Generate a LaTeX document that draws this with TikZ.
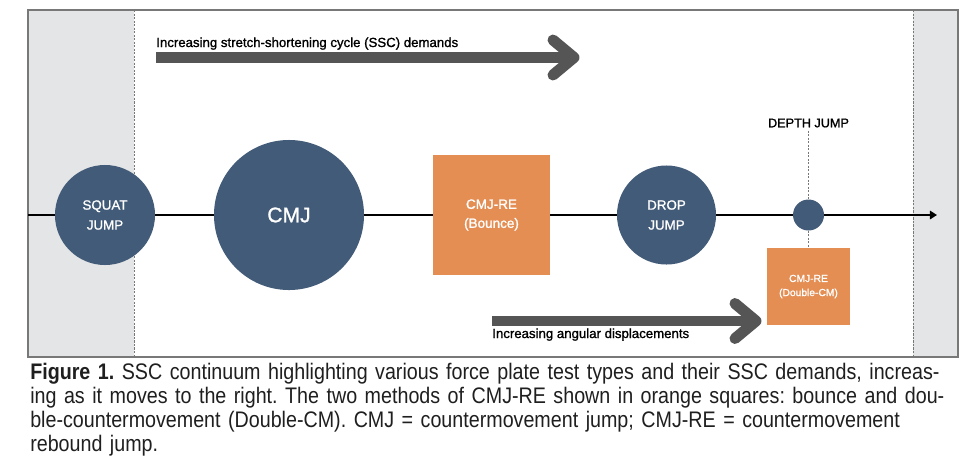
\documentclass[tikz,border=0pt]{standalone}
\usepackage{fontspec}
\setmainfont{Liberation Sans}[FakeBold=1.2]
\newfontfamily\captionfont[FakeStretch=0.875]{Liberation Sans}
\usetikzlibrary{arrows.meta,positioning,calc}
\definecolor{testnavy}{RGB}{66,91,120}
\definecolor{testorange}{RGB}{228,142,84}
\definecolor{panelgray}{RGB}{228,229,231}
\definecolor{arrowgray}{RGB}{85,85,85}
\definecolor{framegray}{RGB}{120,120,120}

\begin{document}
\begin{tikzpicture}[x=0.025cm,y=-0.025cm,
    jumpcircle/.style={circle,fill=testnavy,text=white,inner sep=0pt,align=center},
    jumpsquare/.style={rectangle,fill=testorange,text=white,inner sep=0pt,align=center},
    thinguide/.style={framegray,line width=0.6pt,dash pattern=on 1.5pt off 1pt},
    bigarrow/.style={arrowgray,line width=7.8pt,line cap=round,line join=round},
    arrowtext/.style={anchor=base west,inner sep=0pt,font=\fontsize{9.4}{11}\selectfont}]
      \useasboundingbox (0,0) rectangle (975,456);
      \fill[white] (0,0) rectangle (975,456);
      \fill[panelgray] (28,10) rectangle (134,357);
      \fill[panelgray] (913,10) rectangle (958,357);
      \draw[thinguide] (134,10) -- (134,357);
      \draw[thinguide] (913,10) -- (913,357);
      \draw[framegray,line width=0.8pt] (28,10) rectangle (958,357);

      \node[arrowtext] (ssclabel) at (156,47) {Increasing stretch-shortening cycle (SSC) demands};
      \coordinate (sscstart) at (156,57.5);
      \coordinate (ssctip) at (574,57.5);
      \draw[bigarrow,line cap=butt] (sscstart) -- ($(ssctip)+(-4,0)$);
      \draw[bigarrow] ($(ssctip)+(-21,-17.5)$) -- (ssctip) -- ($(ssctip)+(-21,17.5)$);

      \node[jumpcircle,minimum size=2.5cm,font=\fontsize{9.5}{14.2}\selectfont] (squat) at (105,215) {SQUAT\\JUMP};
      \node[jumpcircle,minimum size=3.75cm,font=\fontsize{15}{18}\selectfont] (cmj) at (289,215) {CMJ};
      \node[jumpsquare,minimum width=2.925cm,minimum height=2.975cm,font=\fontsize{9.6}{13.5}\selectfont] (bounce) at (491.5,215) {CMJ-RE\\(Bounce)};
      \node[jumpcircle,minimum size=2.475cm,font=\fontsize{9.5}{14.2}\selectfont] (drop) at (666.5,215) {DROP\\JUMP};
      \node[jumpcircle,minimum size=0.775cm] (depth) at (808.5,215) {};
      \node[inner sep=2pt,font=\fontsize{9}{11}\selectfont] (depthlabel) at (808.5,123) {DEPTH JUMP};
      \node[jumpsquare,minimum width=2.05cm,minimum height=1.925cm,font=\fontsize{7.3}{10}\selectfont] (doublecm) at (808.5,286.5) {CMJ-RE\\(Double-CM)};

      \coordinate (linestart) at (28,215);
      \coordinate (lineend) at (937,215);
      \draw[line width=1.3pt] (linestart) -- (squat) (squat) -- (cmj) (cmj) -- (bounce)
        (bounce) -- (drop) (drop) -- (depth);
      \draw[line width=1.3pt,-{Triangle[length=5pt,width=6pt]}] (depth) -- (lineend);
      \draw[thinguide] (depthlabel) -- (depth);
      \draw[thinguide] (depth) -- (doublecm);

      \coordinate (anglestart) at (492,321);
      \coordinate (angletip) at (756,321);
      \draw[bigarrow,line cap=butt] (anglestart) -- ($(angletip)+(-4,0)$);
      \draw[bigarrow] ($(angletip)+(-21,-17.5)$) -- (angletip) -- ($(angletip)+(-21,17.5)$);
      \node[arrowtext] (anglelabel) at (492,338) {Increasing angular displacements};

      \node[anchor=north west,inner sep=0pt,text width=23.5cm,align=left,text=black!88,
        font=\captionfont\fontsize{16}{17}\selectfont\frenchspacing] (caption) at (30,363)
        {\textbf{Figure 1.} SSC continuum highlighting various force plate test types and their SSC demands, increas-\\
         ing as it moves to the right. The two methods of CMJ-RE shown in orange squares: bounce and dou-\\
         ble-countermovement (Double-CM). CMJ = countermovement jump; CMJ-RE = countermovement\\
         rebound jump.};
    \end{tikzpicture}
\end{document}
